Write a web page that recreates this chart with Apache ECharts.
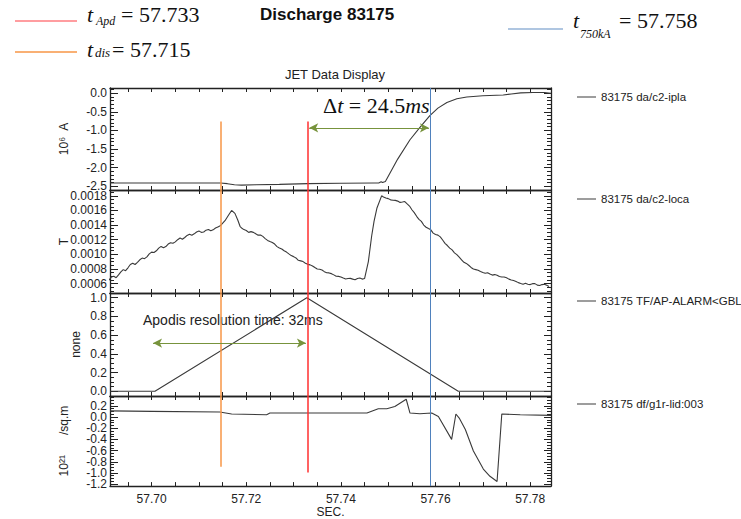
<!DOCTYPE html>
<html><head><meta charset="utf-8">
<script src="https://cdn.jsdelivr.net/npm/echarts@6/dist/echarts.min.js"></script>
<style>html,body{margin:0;padding:0;background:#fff}#c{width:741px;height:519px}</style>
</head><body><div id="c"></div>
<script>
// ---------- data ----------
const timeRange = [57.6912, 57.7844];
const xTickValues = [57.695,57.700,57.705,57.710,57.715,57.720,57.725,57.730,57.735,57.740,57.745,57.750,57.755,57.760,57.765,57.770,57.775,57.780];
const xTickLabels = [57.70,57.72,57.74,57.76,57.78];

const seriesNames = ['83175 da/c2-ipla','83175 da/c2-loca','83175 TF/AP-ALARM<GBL','83175 df/g1r-lid:003'];
const unitNames = ['10\u2076  A','T','none','10\u00b2\u00b9      /sq.m'];

const iplaData = [[57.6912,-2.41],[57.7000,-2.41],[57.7100,-2.41],[57.7145,-2.41],[57.7160,-2.43],[57.7175,-2.46],[57.7190,-2.47],[57.7220,-2.46],[57.7270,-2.45],[57.7330,-2.43],[57.7400,-2.42],[57.7470,-2.41],[57.7480,-2.41],[57.7485,-2.38],[57.7488,-2.40],[57.7494,-2.37],[57.7520,-1.77],[57.7546,-1.25],[57.7567,-0.92],[57.7588,-0.60],[57.7605,-0.40],[57.7624,-0.25],[57.7645,-0.15],[57.7666,-0.10],[57.7700,-0.07],[57.7743,-0.05],[57.7760,-0.02],[57.7780,0.01],[57.7806,0.02],[57.7830,0.02],[57.7844,0.0]];

const locaData = [[57.691,0.000645],[57.6915,0.000690],[57.692,0.000700],[57.6925,0.000680],[57.693,0.000718],[57.6935,0.000760],[57.694,0.000790],[57.6945,0.000775],[57.695,0.000815],[57.6955,0.000860],[57.696,0.000878],[57.6965,0.000860],[57.697,0.000890],[57.6975,0.000925],[57.698,0.000948],[57.6985,0.000940],[57.699,0.000965],[57.6995,0.001005],[57.700,0.001030],[57.7005,0.001025],[57.701,0.001048],[57.7015,0.001085],[57.702,0.001108],[57.7025,0.001090],[57.703,0.001105],[57.7035,0.001140],[57.704,0.001158],[57.7045,0.001150],[57.705,0.001170],[57.7055,0.001200],[57.706,0.001222],[57.7065,0.001205],[57.707,0.001230],[57.7075,0.001258],[57.708,0.001275],[57.7085,0.001262],[57.709,0.001280],[57.7095,0.001305],[57.710,0.001318],[57.7105,0.001300],[57.711,0.001305],[57.7115,0.001330],[57.712,0.001340],[57.7125,0.001322],[57.713,0.001335],[57.7135,0.001360],[57.714,0.001375],[57.7145,0.001390],[57.7155,0.001460],[57.7162,0.001530],[57.7169,0.001600],[57.7176,0.001560],[57.7182,0.001470],[57.7187,0.001380],[57.719,0.001360],[57.7195,0.001338],[57.720,0.001325],[57.7205,0.001300],[57.721,0.001310],[57.7215,0.001300],[57.722,0.001280],[57.7225,0.001262],[57.723,0.001265],[57.7235,0.001245],[57.724,0.001215],[57.7245,0.001190],[57.725,0.001175],[57.7255,0.001162],[57.726,0.001140],[57.7265,0.001105],[57.727,0.001085],[57.7275,0.001072],[57.728,0.001048],[57.7285,0.001030],[57.729,0.001005],[57.7295,0.000982],[57.730,0.000968],[57.7305,0.000950],[57.731,0.000918],[57.7315,0.000910],[57.732,0.000900],[57.7325,0.000878],[57.733,0.000862],[57.7335,0.000855],[57.734,0.000840],[57.7345,0.000818],[57.735,0.000798],[57.7355,0.000795],[57.736,0.000785],[57.7365,0.000762],[57.737,0.000748],[57.7375,0.000745],[57.738,0.000735],[57.7385,0.000718],[57.739,0.000700],[57.7395,0.000698],[57.740,0.000690],[57.7405,0.000675],[57.741,0.000662],[57.7415,0.000668],[57.742,0.000670],[57.7425,0.000660],[57.743,0.000652],[57.7435,0.000668],[57.744,0.000675],[57.7445,0.000660],[57.745,0.000668],[57.7458,0.000900],[57.7465,0.001250],[57.747,0.001450],[57.7476,0.001630],[57.7486,0.001800],[57.749,0.001785],[57.7495,0.001770],[57.750,0.001762],[57.7505,0.001745],[57.751,0.001740],[57.7515,0.001738],[57.752,0.001728],[57.7525,0.001710],[57.753,0.001715],[57.7535,0.001722],[57.754,0.001690],[57.7545,0.001660],[57.755,0.001610],[57.7555,0.001570],[57.756,0.001520],[57.7565,0.001478],[57.757,0.001450],[57.7575,0.001400],[57.758,0.001370],[57.7585,0.001352],[57.759,0.001335],[57.7595,0.001290],[57.760,0.001270],[57.7605,0.001262],[57.761,0.001238],[57.7615,0.001195],[57.762,0.001150],[57.7625,0.001120],[57.763,0.001085],[57.7635,0.001060],[57.764,0.001020],[57.7645,0.000995],[57.765,0.000960],[57.7655,0.000925],[57.766,0.000890],[57.7665,0.000875],[57.767,0.000850],[57.7675,0.000820],[57.768,0.000798],[57.7685,0.000790],[57.769,0.000782],[57.7695,0.000765],[57.770,0.000752],[57.7705,0.000740],[57.771,0.000748],[57.7715,0.000730],[57.772,0.000715],[57.7725,0.000722],[57.773,0.000712],[57.7735,0.000695],[57.774,0.000688],[57.7745,0.000690],[57.775,0.000678],[57.7755,0.000660],[57.776,0.000648],[57.7765,0.000640],[57.777,0.000628],[57.7775,0.000612],[57.778,0.000600],[57.7785,0.000590],[57.779,0.000602],[57.7795,0.000590],[57.780,0.000585],[57.7805,0.000598],[57.781,0.000598],[57.7815,0.000578],[57.782,0.000572],[57.7825,0.000585],[57.783,0.000590],[57.7835,0.000575],[57.784,0.000560]];

const alarmData = [[57.6912,0],[57.7007,0],[57.7328,1],[57.7648,0],[57.7844,0]];

const lidData = [[57.6912,0.11],[57.7000,0.10],[57.7144,0.088],[57.7169,0.053],[57.7243,0.04],[57.7250,0.07],[57.7328,0.07],[57.7455,0.07],[57.7479,0.146],[57.7497,0.146],[57.7514,0.187],[57.7538,0.317],[57.7546,0.07],[57.7567,0.058],[57.7592,0.07],[57.7606,0.01],[57.7634,-0.40],[57.7643,0.053],[57.7650,-0.02],[57.7663,-0.224],[57.7680,-0.607],[57.7701,-0.93],[57.7715,-1.06],[57.7730,-1.153],[57.7740,0.053],[57.7779,0.04],[57.7844,0.028]];

const yRanges = [[-2.6,0.14],[0.00047,0.00188],[-0.05,1.05],[-1.235,0.375]];
const yLabels = [[0,-0.5,-1,-1.5,-2,-2.5],[0.0006,0.0008,0.0010,0.0012,0.0014,0.0016,0.0018],[0,0.2,0.4,0.6,0.8,1.0],[0.2,0,-0.2,-0.4,-0.6,-0.8,-1.0,-1.2]];
const yDecimals = [1,4,1,1];
const yMinorStep = [0.1,0.00005,0.05,0.05];

const tDis = 57.7145, tApd = 57.733, t750 = 57.7588;
const markerTop = -0.76;
const disBottom = -0.89, apdBottom = -0.99;
const deltaArrow = [[57.7333,-0.93],[57.7586,-0.93]];
const apodisArrow = [[57.7003,0.515],[57.7326,0.515]];

// ---------- layout / style ----------
const FF = "'Liberation Sans', Arial, sans-serif";
const SERIF = "'Liberation Serif', 'Times New Roman', serif";
const gridTops = [88,190,293,396], gridHeights = [102,103,103,91];
const legendY = [98,200,302,405];
const nameGaps = [40,40,28,40];
const ORANGE = '#f79646', RED = '#ff2f2f', BLUE = '#4f81bd', OLIVE = '#77933c', INK = '#222';
const allData = [iplaData, locaData, alarmData, lidData];

function minorTicks(i){
  const [a,b] = yRanges[i], s = yMinorStep[i], out=[];
  for (let k=Math.ceil(a/s-1e-9); k<=Math.floor(b/s+1e-9); k++) out.push(+(k*s).toFixed(8));
  return out;
}

const grid=[], xAxis=[], yAxis=[], series=[], legend=[];
for (let i=0;i<4;i++){
  const [ymin,ymax]=yRanges[i];
  grid.push({left:110,width:441,top:gridTops[i],height:gridHeights[i]});
  const xBase = {type:'value',gridIndex:i,min:timeRange[0],max:timeRange[1],splitLine:{show:false},
    axisLine:{show:true,onZero:false,lineStyle:{color:INK,width:1.3}},
    axisTick:{show:true,inside:true,length:4,customValues:xTickValues,lineStyle:{color:INK,width:1}}};
  xAxis.push(Object.assign({},xBase,{position:'bottom',
    axisLabel:{show:i===3,customValues:xTickLabels,formatter:v=>v.toFixed(2),margin:7,color:INK,fontSize:12,fontFamily:FF,interval:0,hideOverlap:false,showMinLabel:true,showMaxLabel:true},
    name:i===3?'SEC.':'',nameLocation:'middle',nameGap:19,nameTextStyle:{color:INK,fontSize:12,fontFamily:FF}}));
  xAxis.push(Object.assign({},xBase,{position:'top',axisLabel:{show:false}}));
  const yBase = {type:'value',gridIndex:i,min:ymin,max:ymax,splitLine:{show:false}};
  const dec = yDecimals[i];
  // labels split over two axes so that tightly packed labels are not thinned out
  const labA = yLabels[i].filter((_,k)=>k%2===0), labB = yLabels[i].filter((_,k)=>k%2===1);
  const lab = (vals)=>({show:true,customValues:vals,formatter:v=>v.toFixed(dec),margin:3,color:INK,fontSize:12,fontFamily:FF,interval:0,hideOverlap:false,showMinLabel:true,showMaxLabel:true});
  yAxis.push(Object.assign({},yBase,{position:'left',
    axisLine:{show:true,onZero:false,lineStyle:{color:INK,width:1.3}},
    axisTick:{show:true,inside:true,length:8,customValues:yLabels[i],lineStyle:{color:INK}},
    axisLabel:lab(labA),
    name:unitNames[i],nameLocation:'middle',nameRotate:90,nameGap:nameGaps[i],nameMoveOverlap:false,nameTextStyle:{color:INK,fontSize:12,fontFamily:FF}}));
  yAxis.push(Object.assign({},yBase,{position:'left',axisLine:{show:false},
    axisTick:{show:true,inside:true,length:4,customValues:minorTicks(i),lineStyle:{color:INK}},axisLabel:lab(labB)}));
  yAxis.push(Object.assign({},yBase,{position:'right',
    axisLine:{show:true,onZero:false,lineStyle:{color:INK,width:1.3}},
    axisTick:{show:true,inside:true,length:7,customValues:yLabels[i],lineStyle:{color:INK}},axisLabel:{show:false}}));
  yAxis.push(Object.assign({},yBase,{position:'right',axisLine:{show:false},
    axisTick:{show:true,inside:true,length:4,customValues:minorTicks(i),lineStyle:{color:INK}},axisLabel:{show:false}}));

  const ml = [];
  const seg = (t,y1,y2,c,w)=>[{coord:[t,y1],lineStyle:{color:c,width:w,type:'solid'}},{coord:[t,y2]}];
  if (i===0){
    ml.push(seg(tDis,markerTop,ymin,ORANGE,1.5));
    ml.push(seg(tApd,markerTop,ymin,RED,1.5));
    ml.push(seg(t750,ymax,ymin,BLUE,1));
    ml.push([{coord:deltaArrow[0],symbol:'arrow',symbolSize:[7,9],lineStyle:{color:OLIVE,width:1,type:'solid'}},{coord:deltaArrow[1],symbol:'arrow',symbolSize:[7,9]}]);
  } else if (i===3){
    ml.push(seg(tDis,ymax,disBottom,ORANGE,1.5));
    ml.push(seg(tApd,ymax,apdBottom,RED,1.5));
    ml.push(seg(t750,ymax,ymin,BLUE,1));
  } else {
    ml.push(seg(tDis,ymax,ymin,ORANGE,1.5));
    ml.push(seg(tApd,ymax,ymin,RED,1.5));
    ml.push(seg(t750,ymax,ymin,BLUE,1));
    if (i===2) ml.push([{coord:apodisArrow[0],symbol:'arrow',symbolSize:[7,9],lineStyle:{color:OLIVE,width:1,type:'solid'}},{coord:apodisArrow[1],symbol:'arrow',symbolSize:[7,9]}]);
  }
  series.push({type:'line',name:seriesNames[i],xAxisIndex:2*i,yAxisIndex:4*i,data:allData[i],
    showSymbol:false,symbol:'none',color:'#3a3a3a',lineStyle:{color:'#3a3a3a',width:1.1},z:3,
    markLine:{silent:true,symbol:'none',label:{show:false},emphasis:{disabled:true},animation:false,precision:6,data:ml}});
  legend.push({data:[seriesNames[i]],left:577,top:legendY[i]-7,padding:0,icon:'rect',itemWidth:19,itemHeight:1,
    selectedMode:false,textStyle:{color:INK,fontSize:11.5,fontFamily:FF}});
}

const txt = (x,y,text,font,fill,align)=>({type:'text',x:x,y:y,silent:true,
  style:{text:text,font:font,fill:fill||'#111',textAlign:align||'left',textVerticalAlign:'middle',verticalAlign:'middle'}});
const graphic = [
  {type:'line',shape:{x1:15,y1:21,x2:77,y2:21},style:{stroke:'#ff7c80',lineWidth:1.5},silent:true},
  {type:'line',shape:{x1:15,y1:52,x2:77,y2:52},style:{stroke:ORANGE,lineWidth:1.5},silent:true},
  {type:'line',shape:{x1:508,y1:29,x2:563,y2:29},style:{stroke:'#95b3d7',lineWidth:1.5},silent:true},
  txt(87,14.6,'t','italic 22px '+SERIF),
  txt(96,21,'Apd','italic 12px '+SERIF),
  txt(121,14.6,'= 57.733','22px '+SERIF),
  txt(87,49.6,'t','italic 22px '+SERIF),
  txt(95,52.5,'dis','italic 13px '+SERIF),
  txt(112,49.6,'= 57.715','22px '+SERIF),
  txt(573,20.6,'t','italic 22px '+SERIF),
  txt(580,34,'750kA','italic 12px '+SERIF),
  txt(619,20.6,'= 57.758','22px '+SERIF),
  txt(260,14,'Discharge 83175','bold 17px '+FF),
  txt(335,74,'JET Data Display','13px '+FF,INK,'center'),
  {type:'text',x:323,y:105.6,silent:true,style:{text:'{a|\u0394}{b|t}{a| = 24.5}{b|ms}',fill:'#111',textVerticalAlign:'middle',verticalAlign:'middle',
    rich:{a:{fontSize:22,fontFamily:SERIF,fill:'#111',color:'#111'},b:{fontSize:22,fontFamily:SERIF,fontStyle:'italic',fill:'#111',color:'#111'}}}},
  txt(143,320,'Apodis resolution time: 32ms','14px '+FF,'#222')
];

const chart = echarts.init(document.getElementById('c'),null,{renderer:'svg'});
chart.setOption({animation:false,backgroundColor:'#fff',grid,xAxis,yAxis,series,legend,graphic});
</script></body></html>
